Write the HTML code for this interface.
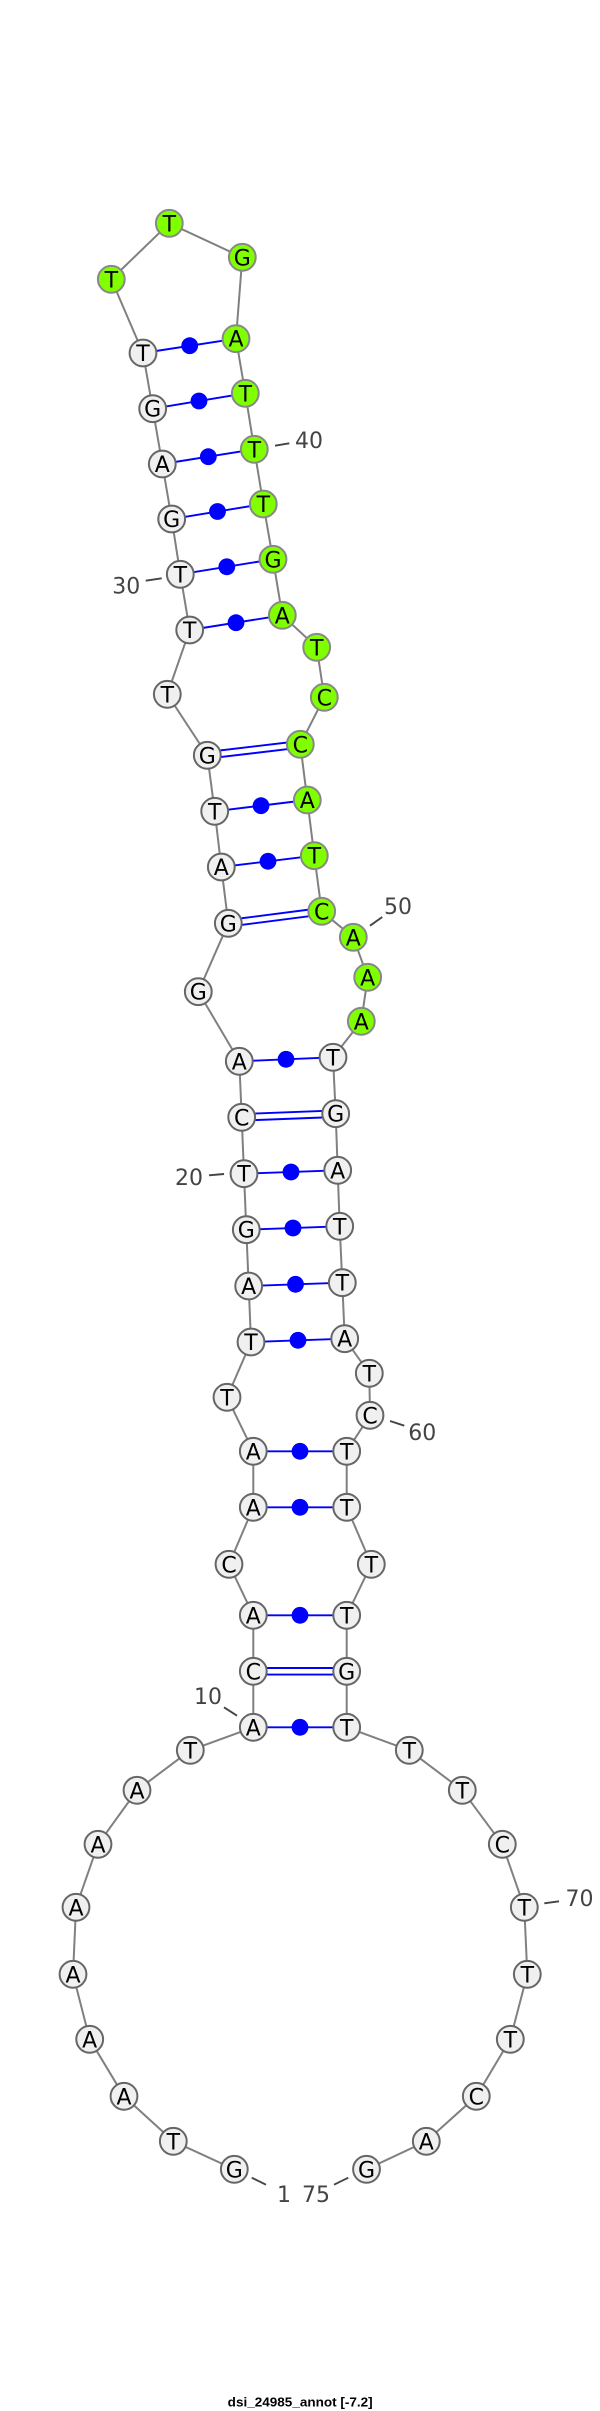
<!DOCTYPE html>
<html><head><meta charset="utf-8"><style>
html,body{margin:0;padding:0;background:#fff;width:600px;height:2411px;overflow:hidden}
svg{display:block}
.b{stroke:#808080;stroke-width:2;fill:none}
.p{stroke:#0000ff;stroke-width:1.9;fill:none}
.d{fill:#0000ff;stroke:none}
.t{stroke:#444;stroke-width:1.9;fill:none}
.n circle{fill:#f0f0f0;stroke:#666;stroke-width:2;r:13.4px}
.g circle{fill:#7fff00;stroke:#888;stroke-width:2;r:13.4px}
.n text,.g text{font:22px "DejaVu Sans",sans-serif;fill:#000;text-anchor:middle}
.l{font:22px "DejaVu Sans",sans-serif;fill:#444}
.h{font:bold 13px "Liberation Sans",sans-serif;fill:#000}
</style></head><body>
<svg width="600" height="2411" viewBox="0 0 600 2411" xmlns="http://www.w3.org/2000/svg">
<polyline class="b" points="234.3,2169.3 173.3,2141.3 124,2096.3 89.7,2039.3 73,1974.3 76,1907.3 98,1844.3 137,1790.3 190.3,1750.3 253.3,1727.3 253.3,1671.3 253.3,1615.3 229,1564.3 253.3,1507.3 253.3,1451.3 227,1397.3 251,1342 248.7,1286 246.3,1229.7 244,1173.7 241.7,1117.3 239.3,1061.3 198.3,991.7 228.3,923.3 221.3,867 214.7,811.3 207.3,755.3 167.3,694.3 189.7,630 180.3,574.3 171.7,519 162.3,464 152.7,408.7 143,353 111.3,279.3 169.3,223.3 242.3,257.3 236,338.7 245.3,393.3 254.3,449.3 263.3,504 273,559.3 282.3,615.3 316.7,647.3 324.3,697.3 300.3,744.3 307.3,800 314.3,855.7 321.7,911.3 353.3,937.3 367.7,977.3 361.3,1021.3 333,1057.3 335.7,1113.7 337.7,1170.3 339.7,1226.3 342.3,1282.7 344.7,1338.7 369.3,1373.3 370,1415.3 346.7,1451.3 346.7,1507.3 371.3,1564.3 346.7,1615.3 346.7,1671.3 346.7,1727.3 409.3,1750.3 462.3,1790.3 502.3,1844.3 524.3,1907.3 527.3,1974.3 510.3,2039.3 476.3,2096.3 426.3,2141.3 366.5,2169.3"/>

<g class="p">
<line x1="143" y1="353" x2="236" y2="338.7"/>
<line x1="152.7" y1="408.7" x2="245.3" y2="393.3"/>
<line x1="162.3" y1="464" x2="254.3" y2="449.3"/>
<line x1="171.7" y1="519" x2="263.3" y2="504"/>
<line x1="180.3" y1="574.3" x2="273" y2="559.3"/>
<line x1="189.7" y1="630" x2="282.3" y2="615.3"/>
<line x1="207" y1="752" x2="300" y2="741"/>
<line x1="207.6" y1="758.6" x2="300.6" y2="747.6"/>
<line x1="214.7" y1="811.3" x2="307.3" y2="800"/>
<line x1="221.3" y1="867" x2="314.3" y2="855.7"/>
<line x1="228" y1="920" x2="321.4" y2="908"/>
<line x1="228.6" y1="926.6" x2="322" y2="914.6"/>
<line x1="239.3" y1="1061.3" x2="333" y2="1057.3"/>
<line x1="241.6" y1="1114" x2="335.6" y2="1110.4"/>
<line x1="241.8" y1="1120.6" x2="335.8" y2="1117"/>
<line x1="244" y1="1173.7" x2="337.7" y2="1170.3"/>
<line x1="246.3" y1="1229.7" x2="339.7" y2="1226.3"/>
<line x1="248.7" y1="1286" x2="342.3" y2="1282.7"/>
<line x1="251" y1="1342" x2="344.7" y2="1338.7"/>
<line x1="253.3" y1="1451.3" x2="346.7" y2="1451.3"/>
<line x1="253.3" y1="1507.3" x2="346.7" y2="1507.3"/>
<line x1="253.3" y1="1615.3" x2="346.7" y2="1615.3"/>
<line x1="253.3" y1="1668" x2="346.7" y2="1668"/>
<line x1="253.3" y1="1674.6" x2="346.7" y2="1674.6"/>
<line x1="253.3" y1="1727.3" x2="346.7" y2="1727.3"/>
</g>
<g class="d">
<circle cx="189.7" cy="345.7" r="8.4"/>
<circle cx="199" cy="401" r="8.4"/>
<circle cx="208.3" cy="456.7" r="8.4"/>
<circle cx="217.5" cy="511.5" r="8.4"/>
<circle cx="226.8" cy="566.8" r="8.4"/>
<circle cx="236" cy="622.7" r="8.4"/>
<circle cx="261" cy="805.7" r="8.4"/>
<circle cx="268" cy="861.3" r="8.4"/>
<circle cx="286" cy="1059.3" r="8.4"/>
<circle cx="291" cy="1172" r="8.4"/>
<circle cx="293" cy="1228" r="8.4"/>
<circle cx="295.5" cy="1284.3" r="8.4"/>
<circle cx="298" cy="1340.3" r="8.4"/>
<circle cx="300" cy="1451.3" r="8.4"/>
<circle cx="300" cy="1507.3" r="8.4"/>
<circle cx="300" cy="1615.3" r="8.4"/>
<circle cx="300" cy="1727.3" r="8.4"/>
</g>

<g class="t">
<line x1="275" y1="445.7" x2="289.3" y2="443.3"/>
<line x1="145.7" y1="580.7" x2="161.7" y2="578.3"/>
<line x1="370" y1="925.7" x2="382.3" y2="917"/>
<line x1="209" y1="1175.3" x2="224" y2="1174"/>
<line x1="390" y1="1421" x2="404.3" y2="1425.7"/>
<line x1="224" y1="1707.3" x2="237" y2="1715.7"/>
<line x1="544.3" y1="1903.3" x2="559" y2="1901.3"/>
<line x1="251.7" y1="2177.7" x2="266" y2="2184.7"/>
<line x1="334" y1="2184.7" x2="348.3" y2="2177.7"/>
</g>

<g class="n">
<g><circle cx="234.3" cy="2169.3" r="13.4"/><text x="234.3" y="2177.3">G</text></g>
<g><circle cx="173.3" cy="2141.3" r="13.4"/><text x="173.3" y="2149.3">T</text></g>
<g><circle cx="124" cy="2096.3" r="13.4"/><text x="124" y="2104.3">A</text></g>
<g><circle cx="89.7" cy="2039.3" r="13.4"/><text x="89.7" y="2047.3">A</text></g>
<g><circle cx="73" cy="1974.3" r="13.4"/><text x="73" y="1982.3">A</text></g>
<g><circle cx="76" cy="1907.3" r="13.4"/><text x="76" y="1915.3">A</text></g>
<g><circle cx="98" cy="1844.3" r="13.4"/><text x="98" y="1852.3">A</text></g>
<g><circle cx="137" cy="1790.3" r="13.4"/><text x="137" y="1798.3">A</text></g>
<g><circle cx="190.3" cy="1750.3" r="13.4"/><text x="190.3" y="1758.3">T</text></g>
<g><circle cx="253.3" cy="1727.3" r="13.4"/><text x="253.3" y="1735.3">A</text></g>
<g><circle cx="253.3" cy="1671.3" r="13.4"/><text x="253.3" y="1679.3">C</text></g>
<g><circle cx="253.3" cy="1615.3" r="13.4"/><text x="253.3" y="1623.3">A</text></g>
<g><circle cx="229" cy="1564.3" r="13.4"/><text x="229" y="1572.3">C</text></g>
<g><circle cx="253.3" cy="1507.3" r="13.4"/><text x="253.3" y="1515.3">A</text></g>
<g><circle cx="253.3" cy="1451.3" r="13.4"/><text x="253.3" y="1459.3">A</text></g>
<g><circle cx="227" cy="1397.3" r="13.4"/><text x="227" y="1405.3">T</text></g>
<g><circle cx="251" cy="1342" r="13.4"/><text x="251" y="1350">T</text></g>
<g><circle cx="248.7" cy="1286" r="13.4"/><text x="248.7" y="1294">A</text></g>
<g><circle cx="246.3" cy="1229.7" r="13.4"/><text x="246.3" y="1237.7">G</text></g>
<g><circle cx="244" cy="1173.7" r="13.4"/><text x="244" y="1181.7">T</text></g>
<g><circle cx="241.7" cy="1117.3" r="13.4"/><text x="241.7" y="1125.3">C</text></g>
<g><circle cx="239.3" cy="1061.3" r="13.4"/><text x="239.3" y="1069.3">A</text></g>
<g><circle cx="198.3" cy="991.7" r="13.4"/><text x="198.3" y="999.7">G</text></g>
<g><circle cx="228.3" cy="923.3" r="13.4"/><text x="228.3" y="931.3">G</text></g>
<g><circle cx="221.3" cy="867" r="13.4"/><text x="221.3" y="875">A</text></g>
<g><circle cx="214.7" cy="811.3" r="13.4"/><text x="214.7" y="819.3">T</text></g>
<g><circle cx="207.3" cy="755.3" r="13.4"/><text x="207.3" y="763.3">G</text></g>
<g><circle cx="167.3" cy="694.3" r="13.4"/><text x="167.3" y="702.3">T</text></g>
<g><circle cx="189.7" cy="630" r="13.4"/><text x="189.7" y="638">T</text></g>
<g><circle cx="180.3" cy="574.3" r="13.4"/><text x="180.3" y="582.3">T</text></g>
<g><circle cx="171.7" cy="519" r="13.4"/><text x="171.7" y="527">G</text></g>
<g><circle cx="162.3" cy="464" r="13.4"/><text x="162.3" y="472">A</text></g>
<g><circle cx="152.7" cy="408.7" r="13.4"/><text x="152.7" y="416.7">G</text></g>
<g><circle cx="143" cy="353" r="13.4"/><text x="143" y="361">T</text></g>
<g><circle cx="333" cy="1057.3" r="13.4"/><text x="333" y="1065.3">T</text></g>
<g><circle cx="335.7" cy="1113.7" r="13.4"/><text x="335.7" y="1121.7">G</text></g>
<g><circle cx="337.7" cy="1170.3" r="13.4"/><text x="337.7" y="1178.3">A</text></g>
<g><circle cx="339.7" cy="1226.3" r="13.4"/><text x="339.7" y="1234.3">T</text></g>
<g><circle cx="342.3" cy="1282.7" r="13.4"/><text x="342.3" y="1290.7">T</text></g>
<g><circle cx="344.7" cy="1338.7" r="13.4"/><text x="344.7" y="1346.7">A</text></g>
<g><circle cx="369.3" cy="1373.3" r="13.4"/><text x="369.3" y="1381.3">T</text></g>
<g><circle cx="370" cy="1415.3" r="13.4"/><text x="370" y="1423.3">C</text></g>
<g><circle cx="346.7" cy="1451.3" r="13.4"/><text x="346.7" y="1459.3">T</text></g>
<g><circle cx="346.7" cy="1507.3" r="13.4"/><text x="346.7" y="1515.3">T</text></g>
<g><circle cx="371.3" cy="1564.3" r="13.4"/><text x="371.3" y="1572.3">T</text></g>
<g><circle cx="346.7" cy="1615.3" r="13.4"/><text x="346.7" y="1623.3">T</text></g>
<g><circle cx="346.7" cy="1671.3" r="13.4"/><text x="346.7" y="1679.3">G</text></g>
<g><circle cx="346.7" cy="1727.3" r="13.4"/><text x="346.7" y="1735.3">T</text></g>
<g><circle cx="409.3" cy="1750.3" r="13.4"/><text x="409.3" y="1758.3">T</text></g>
<g><circle cx="462.3" cy="1790.3" r="13.4"/><text x="462.3" y="1798.3">T</text></g>
<g><circle cx="502.3" cy="1844.3" r="13.4"/><text x="502.3" y="1852.3">C</text></g>
<g><circle cx="524.3" cy="1907.3" r="13.4"/><text x="524.3" y="1915.3">T</text></g>
<g><circle cx="527.3" cy="1974.3" r="13.4"/><text x="527.3" y="1982.3">T</text></g>
<g><circle cx="510.3" cy="2039.3" r="13.4"/><text x="510.3" y="2047.3">T</text></g>
<g><circle cx="476.3" cy="2096.3" r="13.4"/><text x="476.3" y="2104.3">C</text></g>
<g><circle cx="426.3" cy="2141.3" r="13.4"/><text x="426.3" y="2149.3">A</text></g>
<g><circle cx="366.5" cy="2169.3" r="13.4"/><text x="366.5" y="2177.3">G</text></g>
</g>
<g class="g">
<g><circle cx="111.3" cy="279.3" r="13.4"/><text x="111.3" y="287.3">T</text></g>
<g><circle cx="169.3" cy="223.3" r="13.4"/><text x="169.3" y="231.3">T</text></g>
<g><circle cx="242.3" cy="257.3" r="13.4"/><text x="242.3" y="265.3">G</text></g>
<g><circle cx="236" cy="338.7" r="13.4"/><text x="236" y="346.7">A</text></g>
<g><circle cx="245.3" cy="393.3" r="13.4"/><text x="245.3" y="401.3">T</text></g>
<g><circle cx="254.3" cy="449.3" r="13.4"/><text x="254.3" y="457.3">T</text></g>
<g><circle cx="263.3" cy="504" r="13.4"/><text x="263.3" y="512">T</text></g>
<g><circle cx="273" cy="559.3" r="13.4"/><text x="273" y="567.3">G</text></g>
<g><circle cx="282.3" cy="615.3" r="13.4"/><text x="282.3" y="623.3">A</text></g>
<g><circle cx="316.7" cy="647.3" r="13.4"/><text x="316.7" y="655.3">T</text></g>
<g><circle cx="324.3" cy="697.3" r="13.4"/><text x="324.3" y="705.3">C</text></g>
<g><circle cx="300.3" cy="744.3" r="13.4"/><text x="300.3" y="752.3">C</text></g>
<g><circle cx="307.3" cy="800" r="13.4"/><text x="307.3" y="808">A</text></g>
<g><circle cx="314.3" cy="855.7" r="13.4"/><text x="314.3" y="863.7">T</text></g>
<g><circle cx="321.7" cy="911.3" r="13.4"/><text x="321.7" y="919.3">C</text></g>
<g><circle cx="353.3" cy="937.3" r="13.4"/><text x="353.3" y="945.3">A</text></g>
<g><circle cx="367.7" cy="977.3" r="13.4"/><text x="367.7" y="985.3">A</text></g>
<g><circle cx="361.3" cy="1021.3" r="13.4"/><text x="361.3" y="1029.3">A</text></g>
</g>
<g class="l">
<text x="295" y="448">40</text>
<text x="112.3" y="593.3">30</text>
<text x="384" y="914">50</text>
<text x="175" y="1185">20</text>
<text x="408.3" y="1440">60</text>
<text x="194" y="1704">10</text>
<text x="565.5" y="1906">70</text>
<text x="277" y="2202">1</text>
<text x="302" y="2202">75</text>
</g>
<text class="h" x="227.7" y="2406.5" textLength="145" lengthAdjust="spacingAndGlyphs">dsi_24985_annot [-7.2]</text>
</svg>
</body></html>
